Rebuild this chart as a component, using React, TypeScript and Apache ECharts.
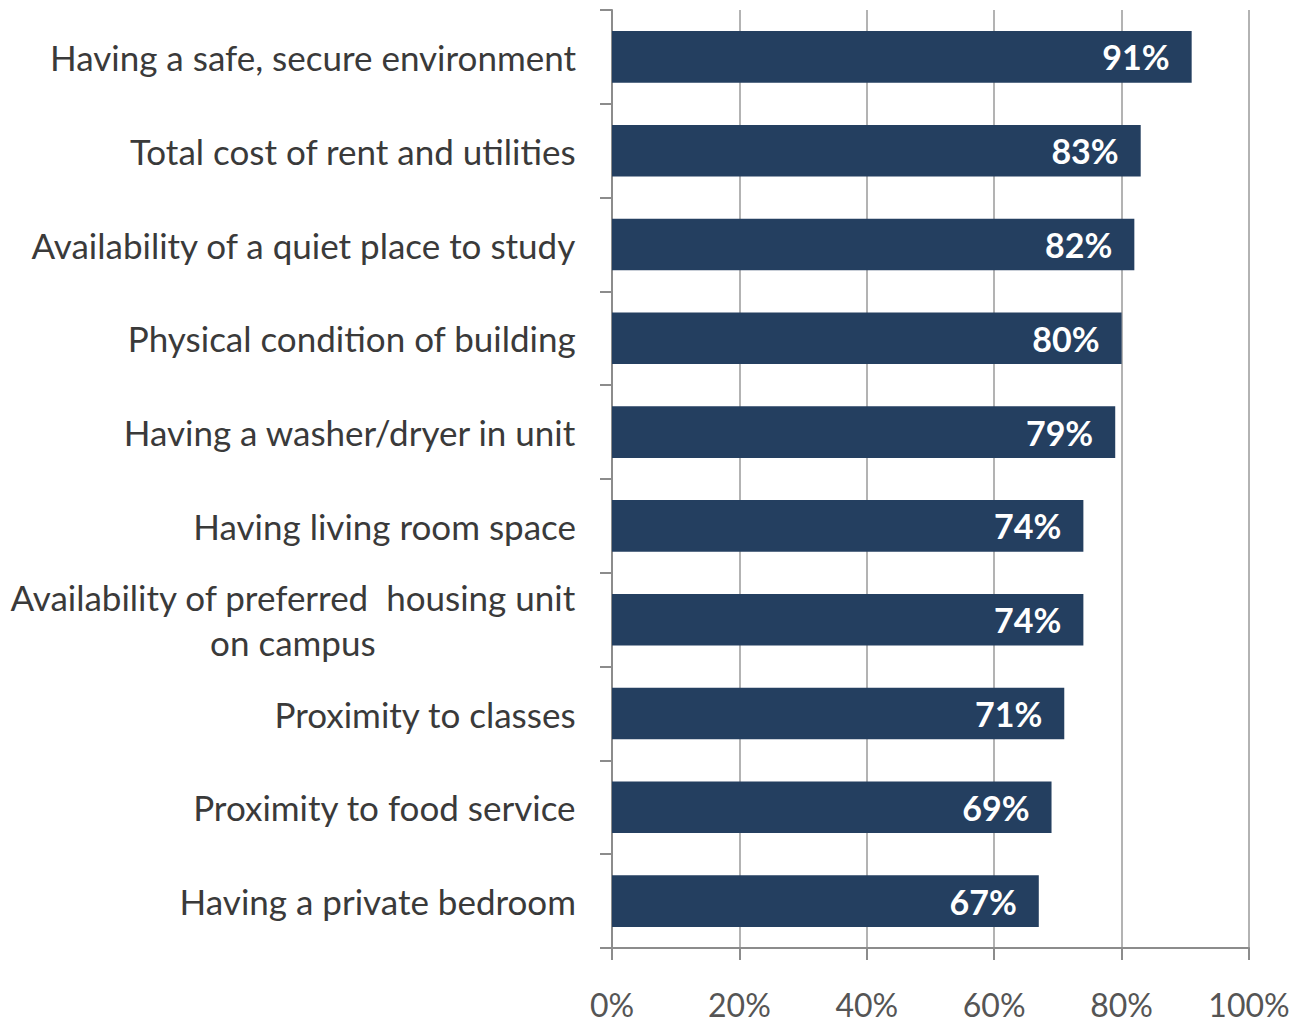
import React, { useEffect, useRef } from "react";
import * as echarts from "echarts";

const categories = [
  "Having a safe, secure environment",
  "Total cost of rent and utilities",
  "Availability of a quiet place to study",
  "Physical condition of building",
  "Having a washer/dryer in unit",
  "Having living room space",
  "Availability of preferred  housing unit\non campus",
  "Proximity to classes",
  "Proximity to food service",
  "Having a private bedroom",
];
const values = [91, 83, 82, 80, 79, 74, 74, 71, 69, 67];
const xTicks = [0, 20, 40, 60, 80, 100];

const FONT = "Lato";

export default function App() {
  const ref = useRef<HTMLDivElement>(null);
  useEffect(() => {
    if (!ref.current) return;
    const chart = echarts.init(ref.current, null, { renderer: "svg" });
    chart.setOption({
      animation: false,
      backgroundColor: "#ffffff",
      grid: { left: 612, right: 52, top: 10, bottom: 77, containLabel: false },
      xAxis: {
        type: "value",
        min: xTicks[0],
        max: xTicks[xTicks.length - 1],
        interval: 20,
        axisLine: { show: true, lineStyle: { color: "#8c8c8c", width: 2 } },
        axisTick: { show: true, length: 12, lineStyle: { color: "#8c8c8c", width: 2 } },
        splitLine: { show: true, lineStyle: { color: "#9a9a9a", width: 1.5 } },
        axisLabel: {
          formatter: "{value}%",
          fontFamily: FONT,
          fontSize: 32,
          color: "#555555",
          margin: 40,
        },
      },
      yAxis: {
        type: "category",
        data: categories,
        inverse: true,
        axisLine: { show: true, lineStyle: { color: "#8c8c8c", width: 2 } },
        axisTick: { show: true, length: 12, inside: false, lineStyle: { color: "#8c8c8c", width: 2 } },
        axisLabel: {
          margin: 36,
          formatter: (v: string) =>
            v
              .split("\n")
              .map((s) => "{c|" + s + "}")
              .join("\n"),
          rich: {
            c: {
              fontFamily: FONT,
              fontSize: 35,
              color: "#3a3a3a",
              align: "center",
              lineHeight: 45,
            },
          },
          fontFamily: FONT,
          fontSize: 35,
          color: "#3a3a3a",
        },
      },
      series: [
        {
          type: "bar",
          data: values,
          barWidth: "55%",
          itemStyle: { color: "#243F60" },
          label: {
            show: true,
            position: "insideRight",
            distance: 22,
            formatter: "{c}%",
            color: "#ffffff",
            fontFamily: FONT,
            fontWeight: "bold",
            fontSize: 34,
          },
        },
      ],
    });
    return () => chart.dispose();
  }, []);
  return <div ref={ref} style={{ width: 1301, height: 1025, margin: -8 }} />;
}
